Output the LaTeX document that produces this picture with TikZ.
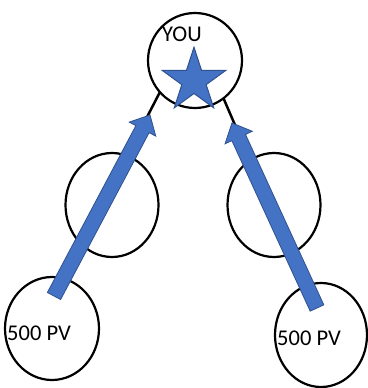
\documentclass[tikz,border=0pt]{standalone}
\usepackage{fontspec}
\setmainfont{Carlito}
\usetikzlibrary{shapes.geometric,calc}
\definecolor{blueFill}{HTML}{4472C4}
\definecolor{blueEdge}{HTML}{2F528F}
\begin{document}
\begin{tikzpicture}[x=1pt,y=-1pt,
  person/.style={draw=black, line width=2.2pt, ellipse, inner sep=0pt, outer sep=0pt},
  link/.style={draw=black, line width=2.5pt},
  lbl/.style={inner sep=0pt, anchor=base west, font=\fontsize{22.5}{27}\selectfont},
  blockarrow/.style={fill=blueFill, draw=blueEdge, line width=0.8pt, line join=miter}]
\useasboundingbox (0,0) rectangle (367,388);
% circles
\node[person, minimum width=94pt, minimum height=95pt] (top) at (195,60.5) {};
\node[person, minimum width=93pt, minimum height=104pt] (midL) at (112,205) {};
\node[person, minimum width=93pt, minimum height=104pt] (midR) at (274,205) {};
\node[person, minimum width=94pt, minimum height=103pt] (botL) at (52,328.5) {};
\node[person, minimum width=92pt, minimum height=104pt] (botR) at (321,335) {};
% links
\draw[link] (top.-138) -- (midL.73);
\draw[link] (top.-53) -- (midR.118);
% labels
\node[lbl] (you) at (162,41) {YOU};
\node[lbl] (pvL) at (7,340) {500 PV};
\node[lbl] (pvR) at (277,345) {500 PV};
% star
\node[star, star points=5, star point ratio=2.618, minimum size=67pt, inner sep=0pt,
      fill=blueFill, draw=blueEdge, line width=1pt] (star) at (194,80.7) {};
% block arrows
\coordinate (LT) at (54,296);
\coordinate (LP) at (150,115);
\coordinate (LB) at ($(LP)!16pt!(LT)$);
\draw[blockarrow] ($(LT)!7.5pt!90:(LP)$) -- ($(LB)!7.5pt!-90:(LT)$) -- ($(LB)!15pt!-90:(LT)$)
   -- (LP) -- ($(LB)!15pt!90:(LT)$) -- ($(LB)!7.5pt!90:(LT)$) -- ($(LT)!7.5pt!-90:(LP)$) -- cycle;
\coordinate (RT) at (317,308);
\coordinate (RP) at (232,123);
\coordinate (RB) at ($(RP)!16pt!(RT)$);
\draw[blockarrow] ($(RT)!7.5pt!90:(RP)$) -- ($(RB)!7.5pt!-90:(RT)$) -- ($(RB)!15pt!-90:(RT)$)
   -- (RP) -- ($(RB)!15pt!90:(RT)$) -- ($(RB)!7.5pt!90:(RT)$) -- ($(RT)!7.5pt!-90:(RP)$) -- cycle;
\end{tikzpicture}
\end{document}
